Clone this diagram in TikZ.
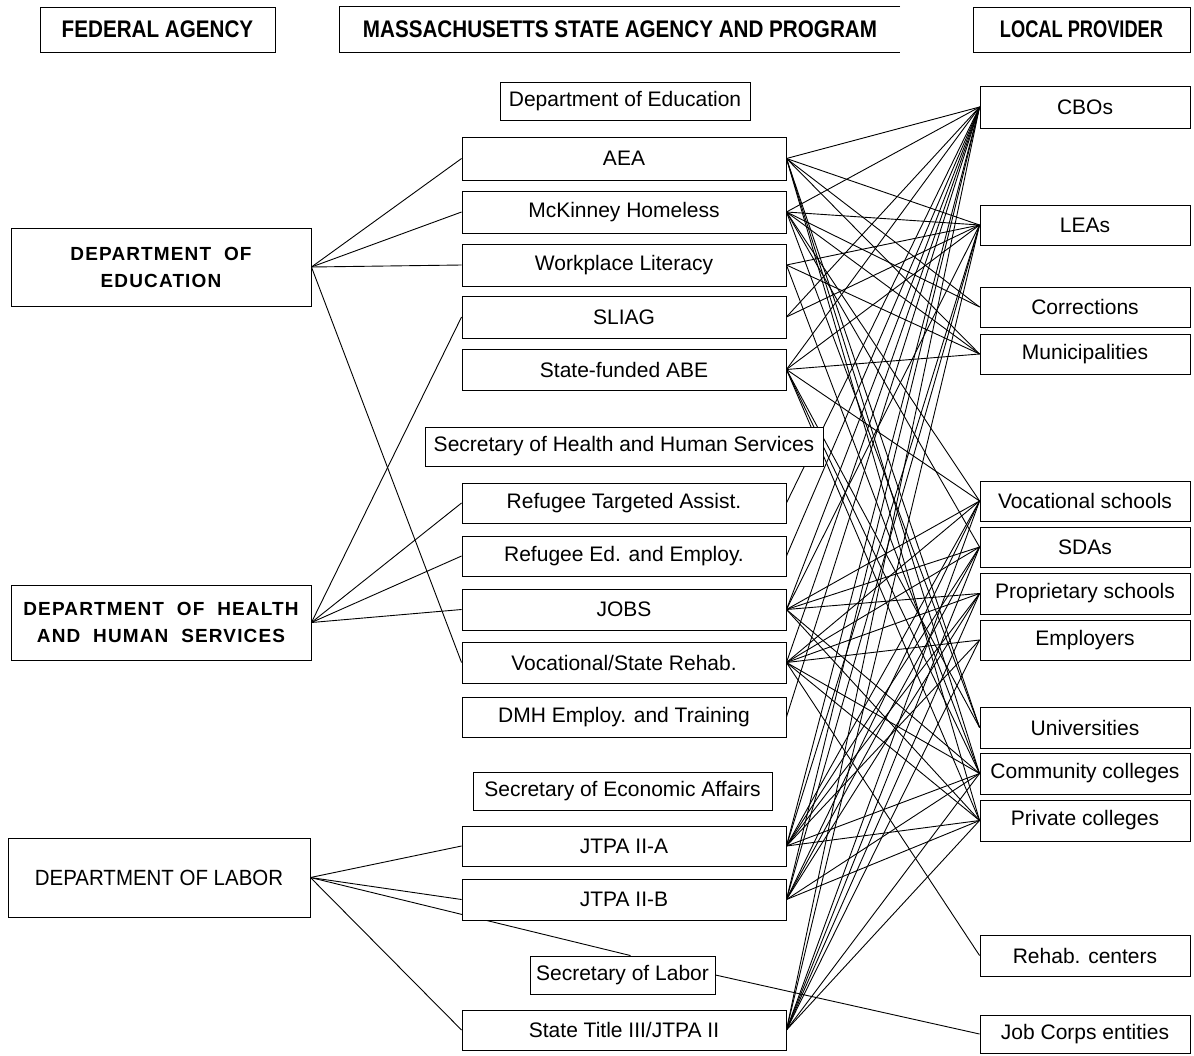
\documentclass[tikz,border=0pt]{standalone}
\usepackage{fontspec}
\setmainfont{Liberation Sans}
\pgfdeclarelayer{bg}
\pgfsetlayers{bg,main}
\begin{document}
\begin{tikzpicture}[x=1pt,y=-1pt,
  box/.style={draw, fill=white, line width=0.9pt, inner sep=0pt, align=center,
    font=\fontsize{21}{24}\selectfont},
  head/.style={fill=white, inner sep=0pt, font=\fontsize{24}{26}\selectfont\bfseries},
  fed/.style={box, font=\fontsize{19}{27}\selectfont\bfseries\addfontfeature{LetterSpace=6}},
  mid/.style={box, minimum width=324pt},
  prov/.style={box, minimum width=210pt},
  edge/.style={line width=1pt},
  conn/.style={line width=0.9pt}]
\useasboundingbox (0,0) rectangle (1194,1055);
% headers
\node[head, draw, line width=0.9pt, minimum width=235pt, minimum height=45pt] (hfed) at (157.5,29.5) {\scalebox{0.86}[1]{FEDERAL AGENCY}};
\node[head, minimum width=560pt, minimum height=45pt] (hmass) at (620,29.5) {\scalebox{0.86}[1]{MASSACHUSETTS STATE AGENCY AND PROGRAM}};
\draw[edge] (hmass.north east) -- (hmass.north west) -- (hmass.south west) -- (hmass.south east);
\node[head, draw, line width=0.9pt, minimum width=217pt, minimum height=45pt] (hloc) at (1081.5,29.5) {\scalebox{0.76}[1]{LOCAL PROVIDER}};
% federal agencies
\node[fed, minimum width=300pt, minimum height=78pt] (fdoe) at (161,267) {DEPARTMENT\ \ OF\\EDUCATION};
\node[fed, minimum width=300pt, minimum height=75pt] (fhhs) at (161,622.5) {DEPARTMENT\ \ OF\ \ HEALTH\\AND\ \ HUMAN\ \ SERVICES};
\node[box, font=\fontsize{22}{24}\selectfont, minimum width=302pt, minimum height=79pt] (fdol) at (159,877.5) {\scalebox{0.93}[1]{DEPARTMENT OF LABOR}};
% state agencies and programs
\node[box, minimum width=250pt, minimum height=38pt] (sdoe) at (625,101) {Department of Education};
\node[mid, minimum height=43pt] (aea) at (624,158.5) {AEA};
\node[mid, minimum height=42pt] (mck) at (624,212) {McKinney Homeless};
\node[mid, minimum height=42pt] (work) at (624,265) {Workplace Literacy};
\node[mid, minimum height=42pt] (sliag) at (624,317) {SLIAG};
\node[mid, minimum height=41pt] (abe) at (624,369.5) {State-funded ABE};
\node[box, minimum width=398pt, minimum height=39pt] (shhs) at (624,446.5) {Secretary of Health and Human Services};
\node[mid, minimum height=40pt] (refta) at (624,503) {Refugee Targeted Assist.};
\node[mid, minimum height=40pt] (refed) at (624,556) {Refugee Ed. and Employ.};
\node[mid, minimum height=41pt] (jobs) at (624,609.5) {JOBS};
\node[mid, minimum height=41pt] (vocreh) at (624,662.5) {Vocational/State Rehab.};
\node[mid, minimum height=40pt] (dmh) at (624,717) {DMH Employ. and Training};
\node[box, minimum width=299pt, minimum height=38pt] (secea) at (622.5,791) {Secretary of Economic Affairs};
\node[mid, minimum height=40pt] (jtpaa) at (624,846) {JTPA II-A};
\node[mid, minimum height=41pt] (jtpab) at (624,899.5) {JTPA II-B};
\node[box, minimum width=185pt, minimum height=38pt] (seclab) at (622.5,975) {Secretary of Labor};
\node[mid, minimum height=40pt] (t3) at (624,1030) {State Title III/JTPA II};
% local providers
\node[prov, minimum height=42pt] (cbo) at (1085,107) {CBOs};
\node[prov, minimum height=40pt] (lea) at (1085,225) {LEAs};
\node[prov, minimum height=40pt] (corr) at (1085,307) {Corrections};
\node[prov, minimum height=40pt] (muni) at (1085,354) {Municipalities};
\node[prov, minimum height=40pt] (voc) at (1085,501) {Vocational schools};
\node[prov, minimum height=40pt] (sda) at (1085,547) {SDAs};
\node[prov, minimum height=41pt] (prop) at (1085,593.5) {Proprietary schools};
\node[prov, minimum height=40pt] (emp) at (1085,640) {Employers};
\node[prov, minimum height=41pt] (univ) at (1085,727.5) {Universities};
\node[prov, minimum height=41pt] (cc) at (1085,773.5) {Community colleges};
\node[prov, minimum height=41pt] (pc) at (1085,820.5) {Private colleges};
\node[prov, minimum height=41pt] (rehab) at (1085,955.5) {Rehab. centers};
\node[prov, minimum height=38pt] (jobc) at (1085,1034) {Job Corps entities};
% connectors
\begin{pgfonlayer}{bg}
\foreach \a/\b in {fdoe/aea, fdoe/mck, fdoe/work, fdoe/vocreh,
  fhhs/sliag, fhhs/refta, fhhs/refed, fhhs/jobs,
  fdol/jtpaa, fdol/jtpab, fdol/t3}
  \draw[conn] (\a.east) -- (\b.west);
\draw[conn] (fdol.east) -- ([xshift=8pt]seclab.north);
\draw[conn] (seclab.east) -- (jobc.west);
\foreach \a/\b in {aea/cbo, aea/lea, aea/corr, aea/muni, aea/univ, aea/cc, aea/pc,
  mck/cbo, mck/lea, mck/corr, mck/muni, mck/voc, mck/sda, mck/univ,
  work/lea, work/muni, work/cc,
  sliag/cbo, sliag/lea,
  abe/cbo, abe/lea, abe/muni, abe/voc, abe/univ, abe/cc, abe/pc,
  refta/cbo, refed/cbo,
  jobs/cbo, jobs/lea, jobs/voc, jobs/sda, jobs/prop, jobs/cc, jobs/pc,
  vocreh/cbo, vocreh/voc, vocreh/sda, vocreh/prop, vocreh/emp, vocreh/cc, vocreh/pc, vocreh/rehab,
  dmh/cbo,
  jtpaa/cbo, jtpaa/lea, jtpaa/voc, jtpaa/sda, jtpaa/prop, jtpaa/emp, jtpaa/cc, jtpaa/pc,
  jtpab/cbo, jtpab/lea, jtpab/voc, jtpab/sda, jtpab/prop, jtpab/cc, jtpab/pc,
  t3/cbo, t3/lea, t3/voc, t3/sda, t3/prop, t3/emp, t3/cc, t3/pc}
  \draw[conn] (\a.east) -- (\b.west);
\end{pgfonlayer}
\end{tikzpicture}
\end{document}
